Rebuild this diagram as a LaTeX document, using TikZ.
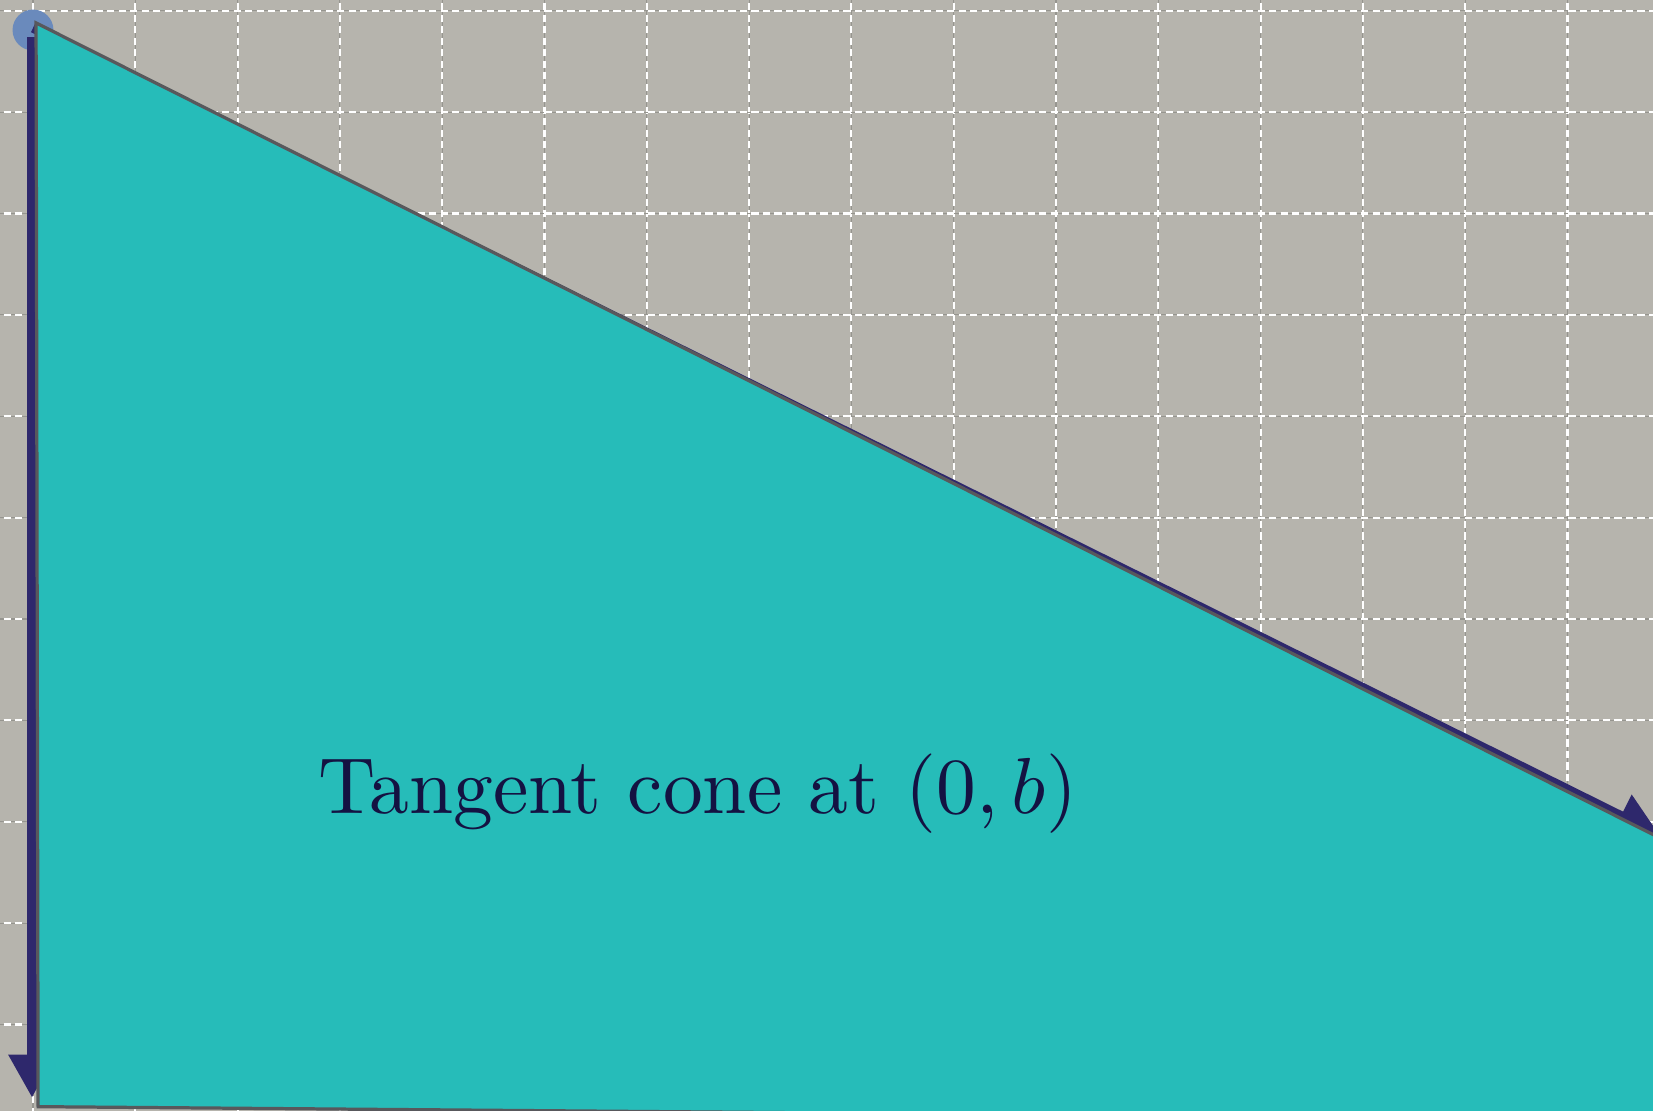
\documentclass[tikz,border=0pt]{standalone}
\usepackage{amsmath,amssymb}
\usepackage{xcolor}
\usepackage{tikz}
\usetikzlibrary{arrows.meta}

\definecolor{paper}{RGB}{182,180,173}
\definecolor{gridline}{RGB}{150,149,143}
\definecolor{conefill}{RGB}{38,188,185}
\definecolor{coneedge}{RGB}{88,88,92}
\definecolor{ray}{RGB}{46,40,108}
\definecolor{dot}{RGB}{106,138,188}
\definecolor{label}{RGB}{20,18,66}

\begin{document}
\begin{tikzpicture}[
  x=1cm, y=0.991cm,
  gridbase/.style={draw=gridline, line width=0.3pt},
  griddash/.style={draw=white, line width=0.6pt, dash pattern=on 2pt off 1.2pt},
  cone/.style={fill=conefill, draw=coneedge, line width=0.9pt, line join=miter},
  rayarrow/.style={-{Triangle[length=0.42cm, width=0.44cm]}, draw=ray, fill=ray, line width=2.6pt},
  pt/.style={circle, fill=dot, inner sep=0pt, minimum size=0.4cm},
  conelabel/.style={text=label, scale=2.21, anchor=base}
]
\useasboundingbox (-0.3226,-10.661) rectangle (15.836,0.296);
\clip (-0.3226,-10.661) rectangle (15.836,0.296);
\fill[paper] (-0.3226,-10.661) rectangle (15.836,0.296);

% grid
\foreach \i in {0,...,15} {
  \draw[gridbase] (\i,-10.7) -- (\i,0.3);
  \draw[griddash] (\i,-10.7) -- (\i,0.3);
}
\foreach \j in {0,...,10} {
  \draw[gridbase] (-0.4,0.19-\j) -- (15.9,0.19-\j);
  \draw[griddash] (-0.4,0.19-\j) -- (15.9,0.19-\j);
}

% point and rays
\node[pt] (b) at (0,0) {};
\coordinate (top) at (-0.01,-0.07);
\coordinate (down) at (-0.01,-10.53);
\coordinate (start) at (0,0.02);
\coordinate (diag) at (15.9,-7.94);
\draw[rayarrow] (top) -- (down);
\draw[rayarrow] (start) -- (diag);

% the cone
\draw[cone] (0.03,0.07) -- (0.05,-10.62) -- (16.2,-10.75) -- (16.2,-8.12) -- cycle;

\node[conelabel] (lbl) at (6.5,-7.73) {Tangent cone at $(0,b)$};
\end{tikzpicture}
\end{document}
